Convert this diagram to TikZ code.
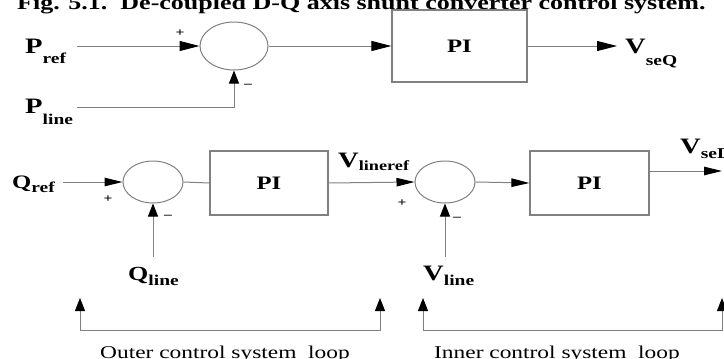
\documentclass[tikz,border=0pt]{standalone}
\usepackage{fontspec}
\setmainfont{Liberation Serif}
\newfontfamily\lblfont[FakeStretch=1.3]{Liberation Serif}
\usetikzlibrary{shapes.geometric,arrows.meta}
\newcommand\blab[5]{{\fontsize{#2}{#2}\selectfont #1}\raisebox{-#5pt}{\fontsize{#4}{#4}\selectfont #3}}
\begin{document}
\begin{tikzpicture}[x=1pt,y=-1pt,
  ln/.style={draw=black!50, line width=1pt},
  sumnode/.style={ellipse, draw=black!50, line width=1pt, inner sep=0pt},
  pibox/.style={rectangle, draw=black!50, line width=1.2pt, inner sep=0pt, font=\lblfont\bfseries\fontsize{19}{19}\selectfont},
  arrA/.style={ln, -{Triangle[length=20pt,width=10pt,color=black,fill=black]}},
  arrB/.style={ln, -{Triangle[length=18pt,width=8.5pt,color=black,fill=black]}},
  arrV/.style={ln, -{Triangle[length=13pt,width=10pt,color=black,fill=black]}},
  brk/.style={ln, {Triangle[length=13pt,width=10pt,color=black,fill=black]}-{Triangle[length=13pt,width=10pt,color=black,fill=black]}},
  lbl/.style={inner sep=0pt, font=\lblfont\bfseries},
  sgn/.style={inner sep=0pt, font=\lblfont\bfseries\fontsize{12}{12}\selectfont},
  captxt/.style={inner sep=0pt, anchor=base, font=\lblfont\fontsize{18}{18}\selectfont}]
\clip (0,0) rectangle (724,359);
% title
\node[anchor=base west, inner sep=0pt, font=\lblfont\bfseries\fontsize{20}{20}\selectfont] (title) at (17,9) {Fig. 5.1.\ \ De-coupled D-Q axis shunt converter control system.};
% top row
\node[lbl, anchor=base west] (pref) at (25,53) {\blab{P}{22}{ref}{15}{10}};
\coordinate (prefo) at (77,46);
\node[sumnode, minimum width=68pt, minimum height=48pt] (s1) at (234,46) {};
\node[pibox, minimum width=135pt, minimum height=72pt] (pi1) at (459.5,46) {PI};
\coordinate (vseqi) at (617,46);
\node[lbl, anchor=base west] (vseq) at (625,53) {\blab{V}{22}{seQ}{15}{12}};
\node[lbl, anchor=base west] (pline) at (25,113) {\blab{P}{22}{line}{15}{11}};
\coordinate (plineo) at (77,107);
\node[sgn] (p1) at (180,33) {+};
\node[sgn] (m1) at (248,86) {\textendash};
\draw[arrA] (prefo) -- (s1.west);
\draw[arrV] (plineo) -| (s1.south);
\draw[arrA] (s1.east) -- (pi1.west);
\draw[arrA] (pi1.east) -- (vseqi);
% second row
\node[lbl, anchor=base west] (qref) at (12,188) {\blab{Q}{19}{ref}{15}{4}};
\coordinate (qrefo) at (63,182);
\node[sumnode, minimum width=60pt, minimum height=42pt] (s2) at (153,182) {};
\node[pibox, minimum width=118pt, minimum height=64pt] (pi2) at (269,183) {PI};
\node[lbl, anchor=base west] (vlref) at (338,167) {\blab{V}{22}{lineref}{14}{3}};
\node[sumnode, minimum width=60pt, minimum height=42pt] (s3) at (445,182) {};
\node[pibox, minimum width=119pt, minimum height=64pt] (pi3) at (589.5,183) {PI};
\coordinate (vsedi) at (722,171);
\node[lbl, anchor=base west] (vsed) at (680,153) {\blab{V}{22}{seD}{15}{5}};
\coordinate (qlineo) at (153,257);
\coordinate (vlineo) at (445,257);
\node[lbl, anchor=base west] (qline) at (128,280) {\blab{Q}{20}{line}{15}{5}};
\node[lbl, anchor=base west] (vline) at (423,280) {\blab{V}{22}{line}{15}{5}};
\node[sgn] (p2) at (108,199) {+};
\node[sgn] (m2) at (168,217) {\textendash};
\node[sgn] (p3) at (402,203) {+};
\node[sgn] (m3) at (457,219) {\textendash};
\draw[arrB] (qrefo) -- (s2.west);
\draw[ln] (s2.east) -- (pi2.west);
\draw[arrB] (pi2.east) -- (s3.west);
\draw[arrB] (s3.east) -- (pi3.west);
\draw[arrB] (vsedi -| pi3.east) -- (vsedi);
\draw[arrV] (qlineo) -- (s2.south);
\draw[arrV] (vlineo) -- (s3.south);
% loops
\coordinate (outl) at (80,298);
\coordinate (outr) at (380,298);
\coordinate (inl) at (423,298);
\coordinate (inr) at (722,298);
\draw[brk] (outl) -- ++(0,32) -| (outr);
\draw[brk] (inl) -- ++(0,32) -| (inr);
\node[captxt] (outer) at (225,358) {Outer control system\ \ loop};
\node[captxt] (inner) at (557,358) {Inner control system\ \ loop};
\end{tikzpicture}
\end{document}
